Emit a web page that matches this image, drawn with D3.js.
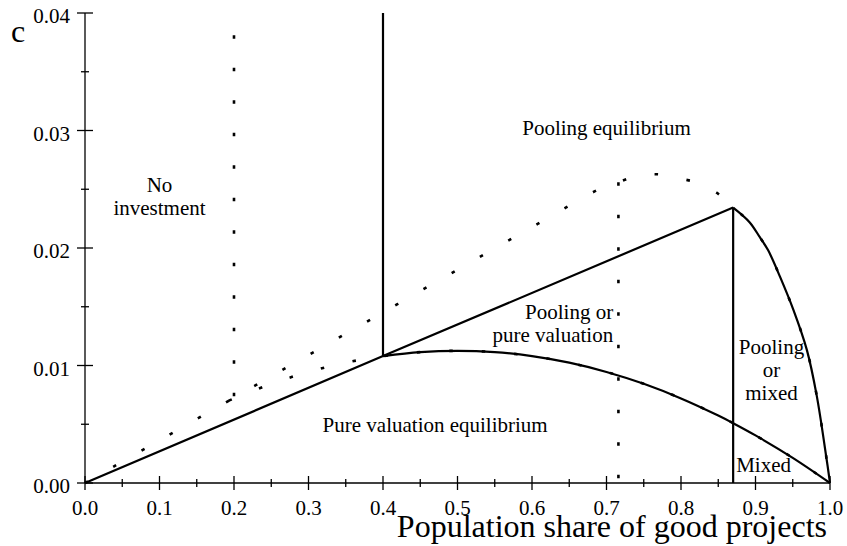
<!DOCTYPE html>
<html>
<head>
<meta charset="utf-8">
<script src="https://cdn.jsdelivr.net/npm/d3@7"></script>
<style>
  html, body { margin: 0; padding: 0; background: #fff; }
  svg text { font-family: "Liberation Serif", "Times New Roman", serif; fill: #000; }
</style>
</head>
<body>
<svg id="chart" width="847" height="546"></svg>
<script>
// ---------- data ----------
const xTickValues = [0.0, 0.1, 0.2, 0.3, 0.4, 0.5, 0.6, 0.7, 0.8, 0.9, 1.0];
const xTickLabels = ["0.0", "0.1", "0.2", "0.3", "0.4", "0.5", "0.6", "0.7", "0.8", "0.9", "1.0"];
const xMinorTicks = [0.05, 0.15, 0.25, 0.35, 0.45, 0.55, 0.65, 0.75, 0.85, 0.95];
const yTickValues = [0.00, 0.01, 0.02, 0.03, 0.04];
const yTickLabels = ["0.00", "0.01", "0.02", "0.03", "0.04"];
const yMinorTicks = [0.005, 0.015, 0.025, 0.035];

// pooling boundary (upper dotted curve, solid beyond p = 0.87)
const poolP = [0.0, 0.1, 0.2, 0.3, 0.4, 0.5, 0.6, 0.65, 0.69, 0.716, 0.74, 0.76, 0.78, 0.80, 0.825, 0.848, 0.87, 0.892, 0.906, 0.917, 0.933, 0.951, 0.969, 0.982, 0.9955, 1.0];
const poolC = [0.0, 0.00363, 0.00726, 0.01089, 0.01452, 0.01815, 0.02178, 0.0236, 0.0250, 0.0256, 0.02612, 0.02628, 0.0262, 0.0259, 0.0255, 0.0247, 0.02344, 0.0222, 0.0209, 0.0198, 0.01754, 0.01471, 0.01131, 0.0075, 0.0020, 0.0];

// pure-valuation boundary (lower hump curve)
const valP = [0.193, 0.25, 0.3, 0.35, 0.4, 0.45, 0.5, 0.55, 0.6, 0.65, 0.7, 0.75, 0.8, 0.85, 0.87, 0.9, 0.95, 1.0];
const valC = [0.00701, 0.00844, 0.00945, 0.01024, 0.0108, 0.01114, 0.01125, 0.01114, 0.0108, 0.01024, 0.00945, 0.00844, 0.0072, 0.00574, 0.00509, 0.00405, 0.00214, 0.0];

// straight solid boundary from the origin
const lineP = [0.0, 0.4, 0.87];
const lineC = [0.0, 0.0108, 0.02344];

// vertical boundaries
const solidVerticals = [ {p: 0.4, c0: 0.0108, c1: 0.04}, {p: 0.87, c0: 0.0, c1: 0.02344} ];
const dottedVerticals = [ {p: 0.2, c0: 0.0072, c1: 0.0381}, {p: 0.716, c0: 0.0, c1: 0.0256} ];

// region labels
const regionLabels = [
  {lines: ["No", "investment"], p: 0.1, c: 0.0248, anchor: "middle"},
  {lines: ["Pooling equilibrium"], p: 0.7, c: 0.0296, anchor: "middle"},
  {lines: ["Pooling or", "pure valuation"], p: 0.709, c: 0.0140, anchor: "end"},
  {lines: ["Pooling", "or", "mixed"], p: 0.9215, c: 0.0110, anchor: "middle"},
  {lines: ["Mixed"], p: 0.874, c: 0.00095, anchor: "start"},
  {lines: ["Pure valuation equilibrium"], p: 0.47, c: 0.0043, anchor: "middle"}
];

// ---------- drawing ----------
const svg = d3.select("#chart");
const x = d3.scaleLinear().domain([0, 1]).range([85, 830]);
const y = d3.scaleLinear().domain([0, 0.04]).range([483, 13]);

const pts = (P, C) => P.map((p, i) => [p, C[i]]);
const line = d3.line().x(d => x(d[0])).y(d => y(d[1])).curve(d3.curveCatmullRom.alpha(0.5));
const straight = d3.line().x(d => x(d[0])).y(d => y(d[1]));

const DASH = "3.5 29";

// axes
const ax = svg.append("g").attr("stroke", "#000").attr("stroke-width", 1.3);
ax.append("line").attr("x1", x(0)).attr("x2", x(1)).attr("y1", y(0)).attr("y2", y(0));
ax.append("line").attr("x1", x(0)).attr("x2", x(0)).attr("y1", y(0)).attr("y2", y(0.04));
ax.selectAll(".xt").data(xTickValues).join("line")
  .attr("x1", d => x(d)).attr("x2", d => x(d)).attr("y1", y(0) - 7).attr("y2", y(0) + 7);
ax.selectAll(".xm").data(xMinorTicks).join("line")
  .attr("x1", d => x(d)).attr("x2", d => x(d)).attr("y1", y(0) - 4).attr("y2", y(0) + 4);
ax.selectAll(".yt").data(yTickValues).join("line")
  .attr("y1", d => y(d)).attr("y2", d => y(d)).attr("x1", x(0) - 8).attr("x2", x(0) + 8);
ax.selectAll(".ym").data(yMinorTicks).join("line")
  .attr("y1", d => y(d)).attr("y2", d => y(d)).attr("x1", x(0) - 4).attr("x2", x(0) + 4);

svg.selectAll(".xl").data(xTickValues).join("text")
  .attr("x", d => x(d)).attr("y", y(0) + 32).attr("text-anchor", "middle")
  .attr("font-size", 21).text((d, i) => xTickLabels[i]);
svg.selectAll(".yl").data(yTickValues).join("text")
  .attr("x", x(0) - 15).attr("y", d => y(d) + 10).attr("text-anchor", "end")
  .attr("font-size", 21).text((d, i) => yTickLabels[i]);

svg.append("text").attr("x", 827).attr("y", 537).attr("text-anchor", "end")
  .attr("font-size", 32).text("Population share of good projects");
svg.append("text").attr("x", 11).attr("y", 42).attr("font-size", 32).text("c");

// dotted curves
const dotted = svg.append("g").attr("fill", "none").attr("stroke", "#000")
  .attr("stroke-width", 2.6).attr("stroke-dasharray", DASH);
dotted.append("path").attr("d", line(pts(poolP, poolC)));
dotted.append("path").attr("d", line(pts(valP, valC)));
dotted.selectAll(".dv").data(dottedVerticals).join("line")
  .attr("x1", d => x(d.p)).attr("x2", d => x(d.p))
  .attr("y1", d => y(d.c1)).attr("y2", d => y(d.c0));

// solid curves
const solid = svg.append("g").attr("fill", "none").attr("stroke", "#000").attr("stroke-width", 2.2);
solid.append("path").attr("d", straight(pts(lineP, lineC)));
solid.append("path").attr("d", line(pts(valP, valC).filter(d => d[0] >= 0.4)));
solid.append("path").attr("d", line(pts(poolP, poolC).filter(d => d[0] >= 0.87)));
solid.selectAll(".sv").data(solidVerticals).join("line")
  .attr("x1", d => x(d.p)).attr("x2", d => x(d.p))
  .attr("y1", d => y(d.c1)).attr("y2", d => y(d.c0));

// region labels
regionLabels.forEach(l => {
  const t = svg.append("text").attr("x", x(l.p)).attr("y", y(l.c))
    .attr("text-anchor", l.anchor).attr("font-size", 21);
  l.lines.forEach((s, i) => {
    t.append("tspan").attr("x", x(l.p)).attr("dy", i === 0 ? 0 : 23).text(s);
  });
});
</script>
</body>
</html>
